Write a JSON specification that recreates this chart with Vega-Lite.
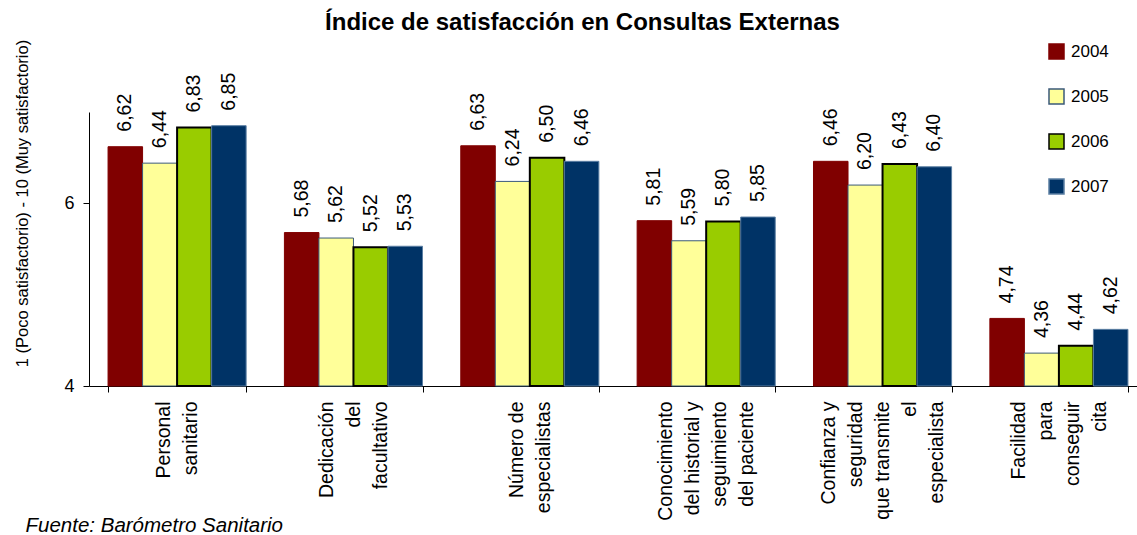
{
  "$schema": "https://vega.github.io/schema/vega-lite/v6.json",
  "width": 1047,
  "height": 274,
  "autosize": {"type": "none"},
  "padding": {"left": 89, "top": 112, "right": 1, "bottom": 149},
  "title": {
    "text": "Índice de satisfacción en Consultas Externas",
    "fontSize": 24,
    "fontWeight": "bold",
    "color": "#000000",
    "anchor": "middle",
    "frame": "group",
    "dx": -30
  },
  "data": {
    "values": [
      {"aspecto": "Personal|sanitario", "year": "2004", "indice": 6.62},
      {"aspecto": "Personal|sanitario", "year": "2005", "indice": 6.44},
      {"aspecto": "Personal|sanitario", "year": "2006", "indice": 6.83},
      {"aspecto": "Personal|sanitario", "year": "2007", "indice": 6.85},
      {"aspecto": "Dedicación|del|facultativo", "year": "2004", "indice": 5.68},
      {"aspecto": "Dedicación|del|facultativo", "year": "2005", "indice": 5.62},
      {"aspecto": "Dedicación|del|facultativo", "year": "2006", "indice": 5.52},
      {"aspecto": "Dedicación|del|facultativo", "year": "2007", "indice": 5.53},
      {"aspecto": "Número de|especialistas", "year": "2004", "indice": 6.63},
      {"aspecto": "Número de|especialistas", "year": "2005", "indice": 6.24},
      {"aspecto": "Número de|especialistas", "year": "2006", "indice": 6.50},
      {"aspecto": "Número de|especialistas", "year": "2007", "indice": 6.46},
      {"aspecto": "Conocimiento|del historial y|seguimiento|del paciente", "year": "2004", "indice": 5.81},
      {"aspecto": "Conocimiento|del historial y|seguimiento|del paciente", "year": "2005", "indice": 5.59},
      {"aspecto": "Conocimiento|del historial y|seguimiento|del paciente", "year": "2006", "indice": 5.80},
      {"aspecto": "Conocimiento|del historial y|seguimiento|del paciente", "year": "2007", "indice": 5.85},
      {"aspecto": "Confianza y|seguridad|que transmite|el|especialista", "year": "2004", "indice": 6.46},
      {"aspecto": "Confianza y|seguridad|que transmite|el|especialista", "year": "2005", "indice": 6.20},
      {"aspecto": "Confianza y|seguridad|que transmite|el|especialista", "year": "2006", "indice": 6.43},
      {"aspecto": "Confianza y|seguridad|que transmite|el|especialista", "year": "2007", "indice": 6.40},
      {"aspecto": "Facilidad|para|conseguir|cita", "year": "2004", "indice": 4.74},
      {"aspecto": "Facilidad|para|conseguir|cita", "year": "2005", "indice": 4.36},
      {"aspecto": "Facilidad|para|conseguir|cita", "year": "2006", "indice": 4.44},
      {"aspecto": "Facilidad|para|conseguir|cita", "year": "2007", "indice": 4.62}
    ]
  },
  "encoding": {
    "x": {
      "field": "aspecto",
      "type": "nominal",
      "sort": null,
      "scale": {"range": [0, 1058], "paddingInner": 0.217, "paddingOuter": 0.108},
      "axis": {
        "title": "Fuente: Barómetro Sanitario",
        "titleFontStyle": "italic",
        "titleFontWeight": "normal",
        "titleFontSize": 20.5,
        "titleX": -64,
        "titleY": 139,
        "titleAlign": "left",
        "titleBaseline": "middle",
        "titleAngle": 0,
        "labelAngle": -90,
        "labelAlign": "right",
        "labelBaseline": "middle",
        "labelFontSize": 19.5,
        "labelLineHeight": 27,
        "labelPadding": 9,
        "labelLimit": 0,
        "labelOverlap": false,
        "labelExpr": "split(datum.label, '|')",
        "labelOffset": {"expr": "-(length(split(datum.value, '|')) - 1) * 13.5"},
        "tickBand": "extent",
        "tickSize": 6,
        "grid": false
      }
    },
    "xOffset": {"field": "year", "type": "nominal", "sort": ["2004", "2005", "2006", "2007"]},
    "y": {
      "field": "indice",
      "type": "quantitative",
      "scale": {"domain": [4, 7], "zero": false, "nice": false},
      "axis": {
        "values": [4, 6],
        "format": "d",
        "title": "1 (Poco satisfactorio) - 10 (Muy satisfactorio)",
        "titleFontSize": 16.5,
        "titleFontWeight": "normal",
        "titleX": -67,
        "titleY": 91,
        "titleAlign": "center",
        "titleBaseline": "middle",
        "titleAngle": 270,
        "labelFontSize": 18,
        "labelPadding": 9,
        "tickSize": 6,
        "grid": false
      }
    }
  },
  "layer": [
    {
      "mark": {"type": "bar"},
      "encoding": {
        "y2": {"datum": 4},
        "fill": {
          "field": "year",
          "type": "nominal",
          "scale": {"domain": ["2004", "2005", "2006", "2007"], "range": ["#800000", "#FFFF99", "#99CC00", "#003366"]},
          "legend": {
            "title": null,
            "orient": "none",
            "legendX": 959,
            "legendY": -69,
            "padding": 0,
            "symbolType": "square",
            "symbolSize": 225,
            "labelFontSize": 17,
            "labelOffset": 6,
            "rowPadding": 24,
            "labelColor": "#000000",
            "symbolStrokeWidth": 1.5
          }
        },
        "stroke": {
          "field": "year",
          "type": "nominal",
          "scale": {"domain": ["2004", "2005", "2006", "2007"], "range": ["#800000", "#3B5A7A", "#000000", "#5B7FA3"]}
        },
        "strokeWidth": {"condition": {"test": "datum.year === '2006'", "value": 2}, "value": 1}
      }
    },
    {
      "mark": {"type": "text", "angle": 270, "align": "left", "baseline": "middle", "dx": 15, "fontSize": 19.5, "color": "#000000"},
      "encoding": {
        "text": {"field": "indice", "type": "quantitative", "format": ".2f"}
      }
    }
  ],
  "config": {
    "font": "Liberation Sans",
    "view": {"stroke": null},
    "locale": {"number": {"decimal": ",", "thousands": ".", "grouping": [3], "currency": ["", " €"]}},
    "axis": {"domainColor": "#000000", "tickColor": "#000000", "labelColor": "#000000", "titleColor": "#000000", "domainWidth": 1, "tickWidth": 1}
  }
}
